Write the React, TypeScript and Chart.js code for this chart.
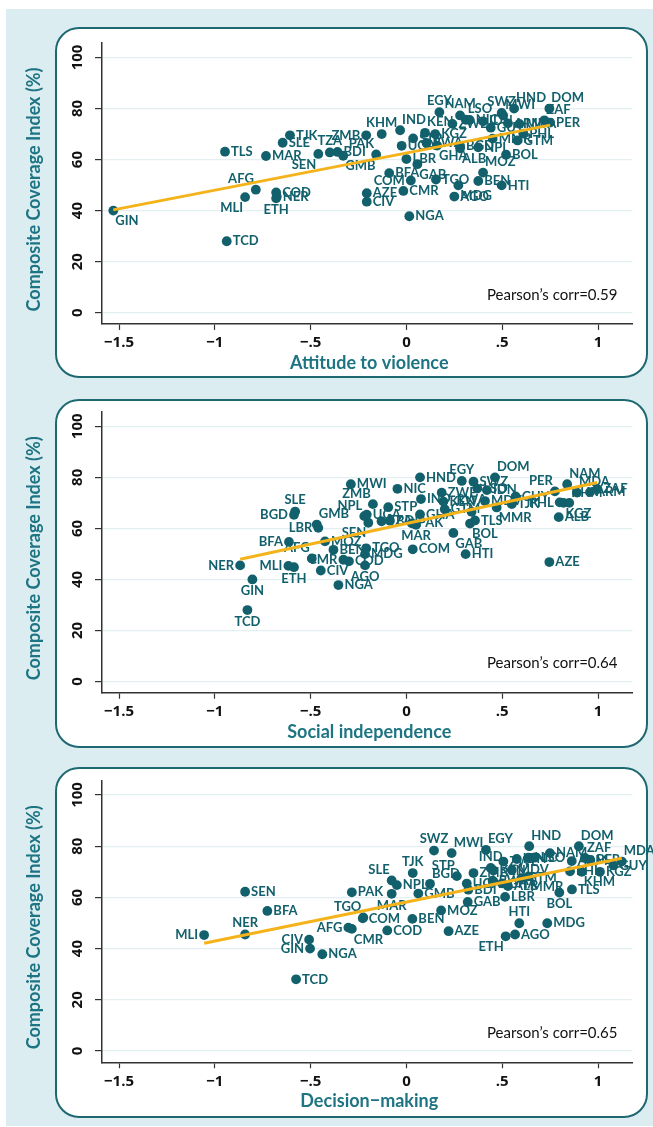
import React, { useEffect, useRef } from "react";
import { Chart, registerables } from "chart.js";
Chart.register(...registerables);

// ---------------- DATA ----------------
const countries = [
  "GIN", "TCD", "NGA", "MLI", "NER", "ETH", "COD", "AFG", "CIV", "AZE",
  "CMR", "AGO", "MDG", "HTI", "BEN", "TGO", "COM", "MOZ", "BFA", "GAB",
  "LBR", "SEN", "MAR", "PAK", "TLS", "BOL", "GMB", "BDI", "TZA", "NPL",
  "ALB", "GHA", "UGA", "BGD", "SLE", "RWA", "STP", "MMR", "KHM", "TJK",
  "ZMB", "KGZ", "PHL", "GTM", "IND", "KEN", "ZWE", "NIC", "GUY", "IDN",
  "MDA", "PER", "ZAF", "LSO", "MWI", "NAM", "SWZ", "EGY", "HND", "DOM",
  "ARM", "MDV",
];

// Composite Coverage Index (%)
const coverage = [
  40, 28, 37.8, 45.3, 45.5, 44.8, 47.1, 48.2, 43.5, 46.8,
  47.7, 45.5, 49.9, 49.9, 51.6, 52.2, 51.8, 54.9, 54.7, 58.2,
  60.2, 62.2, 61.4, 62, 63.1, 61.9, 61.5, 63, 62.8, 64.8,
  64.4, 65.5, 65.4, 65.3, 66.6, 66.5, 68.3, 68.2, 70, 69.5,
  69.5, 70, 70.2, 67.5, 71.5, 70.5, 74, 75.5, 72.5, 75,
  74, 74.5, 75.4, 75.6, 77.3, 77.3, 78.3, 78.6, 80, 80,
  74.2, 70.7,
];

const attitudeToViolence = [
  -1.53, -0.938, 0.015, -0.842, -0.677, -0.68, -0.68, -0.786, -0.207, -0.207,
  -0.016, 0.25, 0.271, 0.497, 0.375, 0.154, 0.023, 0.4, -0.09, 0.057,
  0.0, -0.46, -0.733, -0.158, -0.947, 0.52, -0.33, -0.36, -0.4, 0.375,
  0.28, 0.16, -0.025, 0.28, -0.646, 0.105, 0.035, 0.45, -0.129, -0.608,
  -0.21, 0.15, 0.61, 0.58, -0.033, 0.097, 0.24, 0.33, 0.44, 0.4,
  0.59, 0.75, 0.72, 0.31, 0.505, 0.28, 0.497, 0.172, 0.562, 0.746,
  0.53, null,
];

const socialIndependence = [
  -0.804, -0.83, -0.355, -0.616, -0.868, -0.587, -0.3, -0.494, -0.447, 0.746,
  -0.329, -0.216, -0.216, 0.309, -0.381, -0.21, 0.033, -0.425, -0.613, 0.245,
  -0.46, -0.199, 0.05, 0.028, 0.358, 0.332, -0.468, -0.086, -0.13, -0.22,
  0.795, 0.071, -0.207, -0.587, -0.581, 0.34, -0.095, 0.471, 0.85, 0.55,
  -0.175, 0.82, 0.8, 0.2, 0.076, 0.193, 0.184, -0.047, 0.57, 0.42,
  0.89, 0.775, 0.996, 0.37, -0.29, 0.839, 0.35, 0.289, 0.071, 0.462,
  0.958, 0.41,
];

const decisionMaking = [
  -0.503, -0.576, -0.439, -1.056, -0.842, 0.518, -0.1, -0.303, -0.508, 0.22,
  -0.285, 0.567, 0.735, 0.589, 0.031, -0.225, -0.228, 0.181, -0.726, 0.32,
  0.515, -0.842, -0.077, -0.285, 0.864, 0.798, 0.062, 0.323, null, -0.05,
  0.53, 0.5, 0.315, 0.123, -0.077, 0.45, 0.263, 0.637, 0.915, 0.033,
  0.35, 1.01, 0.854, 0.6, 0.44, 0.454, 0.506, 0.637, 1.08, 0.576,
  1.124, 0.96, 0.932, 0.67, 0.236, 0.749, 0.144, 0.415, 0.641, 0.9,
  0.863, 0.55,
];

// Fitted lines (end points)
const fitViolenceX = [-1.53, 0.75];
const fitViolenceY = [40.3, 73.5];
const fitSocialX = [-0.868, 0.996];
const fitSocialY = [47.9, 78.0];
const fitDecisionX = [-1.056, 1.124];
const fitDecisionY = [42.1, 75.3];

const pearsonValues = ["0.59", "0.64", "0.65"];
const xTitles = ["Attitude to violence", "Social independence", "Decision\u2212making"];
const yTitle = "Composite Coverage Index (%)";
const xTicks = [-1.5, -1, -0.5, 0, 0.5, 1];
const xTickLabels = ["\u22121.5", "\u22121", "\u2212.5", "0", ".5", "1"];
const yTicks = [0, 20, 40, 60, 80, 100];
const yTickLabels = ["0", "20", "40", "60", "80", "100"];

// ---------------- STYLE ----------------
// label clock positions (Stata style); default = 3 (right)
const labelPosViolence: Record<string, number> = {
  GIN: 5, TZA: 12, SEN: 7, GMB: 5, ZMB: 9, AFG: 11, MLI: 7, ETH: 6, KHM: 12,
  IND: 1, KEN: 1, PAK: 11, EGY: 12, NAM: 12, SWZ: 12, HND: 1, DOM: 1, ZAF: 1,
  ALB: 4, GHA: 4, GAB: 4, COM: 9, MOZ: 1, MDG: 4, LSO: 1, MWI: 1,
};
const labelPosSocial: Record<string, number> = {
  NER: 9, MLI: 9, ETH: 6, BFA: 9, GMB: 1, LBR: 9, SLE: 12, BGD: 9, AFG: 11,
  CMR: 9, ZMB: 11, NPL: 10, SEN: 8, AGO: 6, GIN: 6, TCD: 6, EGY: 12, DOM: 1,
  PER: 11, NAM: 1, PHL: 9, KGZ: 4, KHM: 2, MMR: 4, BOL: 4, GAB: 5, MAR: 6,
  MDA: 2, RWA: 12,
};
const labelPosDecision: Record<string, number> = {
  NER: 12, MLI: 9, TGO: 11, AFG: 9, CMR: 4, CIV: 9, GIN: 9, SWZ: 12, MWI: 1,
  EGY: 1, HND: 1, DOM: 1, ZAF: 1, MDA: 1, BOL: 6, MMR: 4, HTI: 12, ETH: 7,
  STP: 11, IND: 12, SLE: 10, TJK: 12, BGD: 1, MAR: 6, KHM: 4,
};

const TEAL = "#13606d";
const TITLE_TEAL = "#1d7482";
const ORANGE = "#f4b31a";
const AXIS = "#333333";
const GRID = "#e4eff2";

const PANELS = [
  { top: 27, h: 351, y100: 57.5, y0: 312.7 },
  { top: 399, h: 349, y100: 426.3, y0: 681.5 },
  { top: 767, h: 351, y100: 795, y0: 1051 },
];
const Y_MIN = -4.4;
const Y_MAX = 105.7;
const X_MIN = -1.589;
const X_MAX = 1.18;

function drawLabel(ctx: CanvasRenderingContext2D, text: string, x: number, y: number, pos: number) {
  const g = 6;
  let tx = x, ty = y;
  let align: CanvasTextAlign = "left";
  let base: CanvasTextBaseline = "middle";
  switch (pos) {
    case 3: tx = x + g; align = "left"; base = "middle"; break;
    case 9: tx = x - g; align = "right"; base = "middle"; break;
    case 12: ty = y - g + 1; align = "center"; base = "bottom"; break;
    case 6: ty = y + g - 1; align = "center"; base = "top"; break;
    case 1: case 2: tx = x + 2; ty = y - 4; align = "left"; base = "bottom"; break;
    case 4: case 5: tx = x + 2; ty = y + 4; align = "left"; base = "top"; break;
    case 10: case 11: tx = x - 2; ty = y - 4; align = "right"; base = "bottom"; break;
    case 7: case 8: tx = x - 2; ty = y + 4; align = "right"; base = "top"; break;
  }
  ctx.textAlign = align;
  ctx.textBaseline = base;
  ctx.fillText(text, tx, ty);
}

function Panel({ idx, xs, fitX, fitY, labelPos }: any) {
  const ref = useRef<HTMLCanvasElement | null>(null);
  const p = PANELS[idx];
  useEffect(() => {
    const canvas = ref.current;
    if (!canvas) return;
    const ppu = (p.y0 - p.y100) / 100;
    const areaTop = p.y100 - (Y_MAX - 100) * ppu - p.top;
    const areaBottom = p.y0 + (0 - Y_MIN) * ppu - p.top;
    const points = countries
      .map((c, i) => ({ x: xs[i], y: coverage[i], c }))
      .filter((d) => d.x !== null && d.x !== undefined);
    const fit = fitX.map((x: number, i: number) => ({ x, y: fitY[i] }));

    const textPlugin = {
      id: "panelTexts" + idx,
      beforeDatasetsDraw(chart: any) {
        const ctx = chart.ctx as CanvasRenderingContext2D;
        const meta = chart.getDatasetMeta(1);
        ctx.save();
        ctx.font = "bold 13px Lato";
        ctx.fillStyle = TEAL;
        meta.data.forEach((el: any, i: number) => {
          const d = points[i];
          drawLabel(ctx, d.c, el.x, el.y, labelPos[d.c] ?? 3);
        });
        ctx.restore();
      },
      afterDraw(chart: any) {
        const ctx = chart.ctx as CanvasRenderingContext2D;
        const xs2 = chart.scales.x;
        const ys2 = chart.scales.y;
        const area = chart.chartArea;
        ctx.save();
        // x tick labels
        ctx.fillStyle = "#111";
        ctx.font = "bold 15px 'Open Sans'";
        ctx.textAlign = "center";
        ctx.textBaseline = "middle";
        xTicks.forEach((v, i) => {
          ctx.fillText(xTickLabels[i], xs2.getPixelForValue(v), area.bottom + 19);
        });
        // y tick labels (rotated)
        yTicks.forEach((v, i) => {
          const py = ys2.getPixelForValue(v);
          ctx.save();
          ctx.translate(78, py);
          ctx.rotate(-Math.PI / 2);
          ctx.textAlign = "center";
          ctx.textBaseline = "middle";
          ctx.fillText(yTickLabels[i], 0, 0);
          ctx.restore();
        });
        // x title
        ctx.fillStyle = TITLE_TEAL;
        ctx.font = "bold 18px Lato";
        ctx.textAlign = "center";
        ctx.textBaseline = "middle";
        ctx.fillText(xTitles[idx], (area.left + area.right) / 2 + 2, area.bottom + 39);
        // y title
        ctx.save();
        ctx.translate(34, (area.top + area.bottom) / 2 + 6);
        ctx.rotate(-Math.PI / 2);
        ctx.font = "bold 18px Lato";
        ctx.fillText(yTitle, 0, 0);
        ctx.restore();
        // pearson
        ctx.fillStyle = "#111";
        ctx.font = "15px Lato";
        ctx.textAlign = "right";
        ctx.textBaseline = "middle";
        ctx.fillText("Pearson\u2019s corr=" + pearsonValues[idx], area.right - 15, ys2.getPixelForValue(7));
        ctx.restore();
      },
    };

    const chart = new Chart(canvas, {
      type: "scatter",
      data: {
        datasets: [
          {
            type: "line",
            data: fit,
            borderColor: ORANGE,
            borderWidth: 3,
            pointRadius: 0,
            fill: false,
            order: 0,
          } as any,
          {
            type: "scatter",
            data: points,
            backgroundColor: TEAL,
            borderWidth: 0,
            pointRadius: 4.9,
            order: 1,
          } as any,
        ],
      },
      options: {
        animation: false,
        responsive: false,
        events: [],
        layout: {
          padding: { left: 102, right: 653 - 632.5, top: areaTop, bottom: p.h - areaBottom },
        },
        plugins: { legend: { display: false }, tooltip: { enabled: false } },
        scales: {
          x: {
            type: "linear",
            min: X_MIN,
            max: X_MAX,
            afterBuildTicks: (axis: any) => {
              axis.ticks = xTicks.map((v) => ({ value: v }));
            },
            afterFit: (axis: any) => {
              axis.height = 0;
            },
            ticks: { display: false },
            grid: {
              drawOnChartArea: false,
              drawTicks: true,
              tickLength: 6,
              tickColor: AXIS,
              tickWidth: 1.2,
            },
            border: { display: true, color: AXIS, width: 1.5 },
          },
          y: {
            type: "linear",
            min: Y_MIN,
            max: Y_MAX,
            afterBuildTicks: (axis: any) => {
              axis.ticks = yTicks.map((v) => ({ value: v }));
            },
            afterFit: (axis: any) => {
              axis.width = 0;
            },
            ticks: { display: false },
            grid: {
              color: GRID,
              lineWidth: 1.2,
              drawTicks: true,
              tickLength: 7,
              tickColor: AXIS,
              tickWidth: 1.2,
            },
            border: { display: true, color: AXIS, width: 1.5 },
          },
        },
      },
      plugins: [textPlugin],
    } as any);
    return () => chart.destroy();
  }, []);

  return (
    <>
      <div
        style={{
          position: "absolute",
          left: 55,
          top: p.top,
          width: 593,
          height: p.h,
          border: "2px solid #1e6872",
          borderRadius: 24,
          background: "#ffffff",
          boxSizing: "border-box",
        }}
      />
      <canvas
        ref={ref}
        width={653}
        height={p.h}
        style={{ position: "absolute", left: 0, top: p.top, width: 653, height: p.h }}
      />
    </>
  );
}

export default function App() {
  return (
    <div style={{ position: "absolute", left: 0, top: 0, width: 653, height: 1127, background: "#ffffff" }}>
      <div style={{ position: "absolute", left: 6, top: 9, width: 647, height: 1117, background: "#dcedf1" }} />
      <Panel idx={0} xs={attitudeToViolence} fitX={fitViolenceX} fitY={fitViolenceY} labelPos={labelPosViolence} />
      <Panel idx={1} xs={socialIndependence} fitX={fitSocialX} fitY={fitSocialY} labelPos={labelPosSocial} />
      <Panel idx={2} xs={decisionMaking} fitX={fitDecisionX} fitY={fitDecisionY} labelPos={labelPosDecision} />
    </div>
  );
}
